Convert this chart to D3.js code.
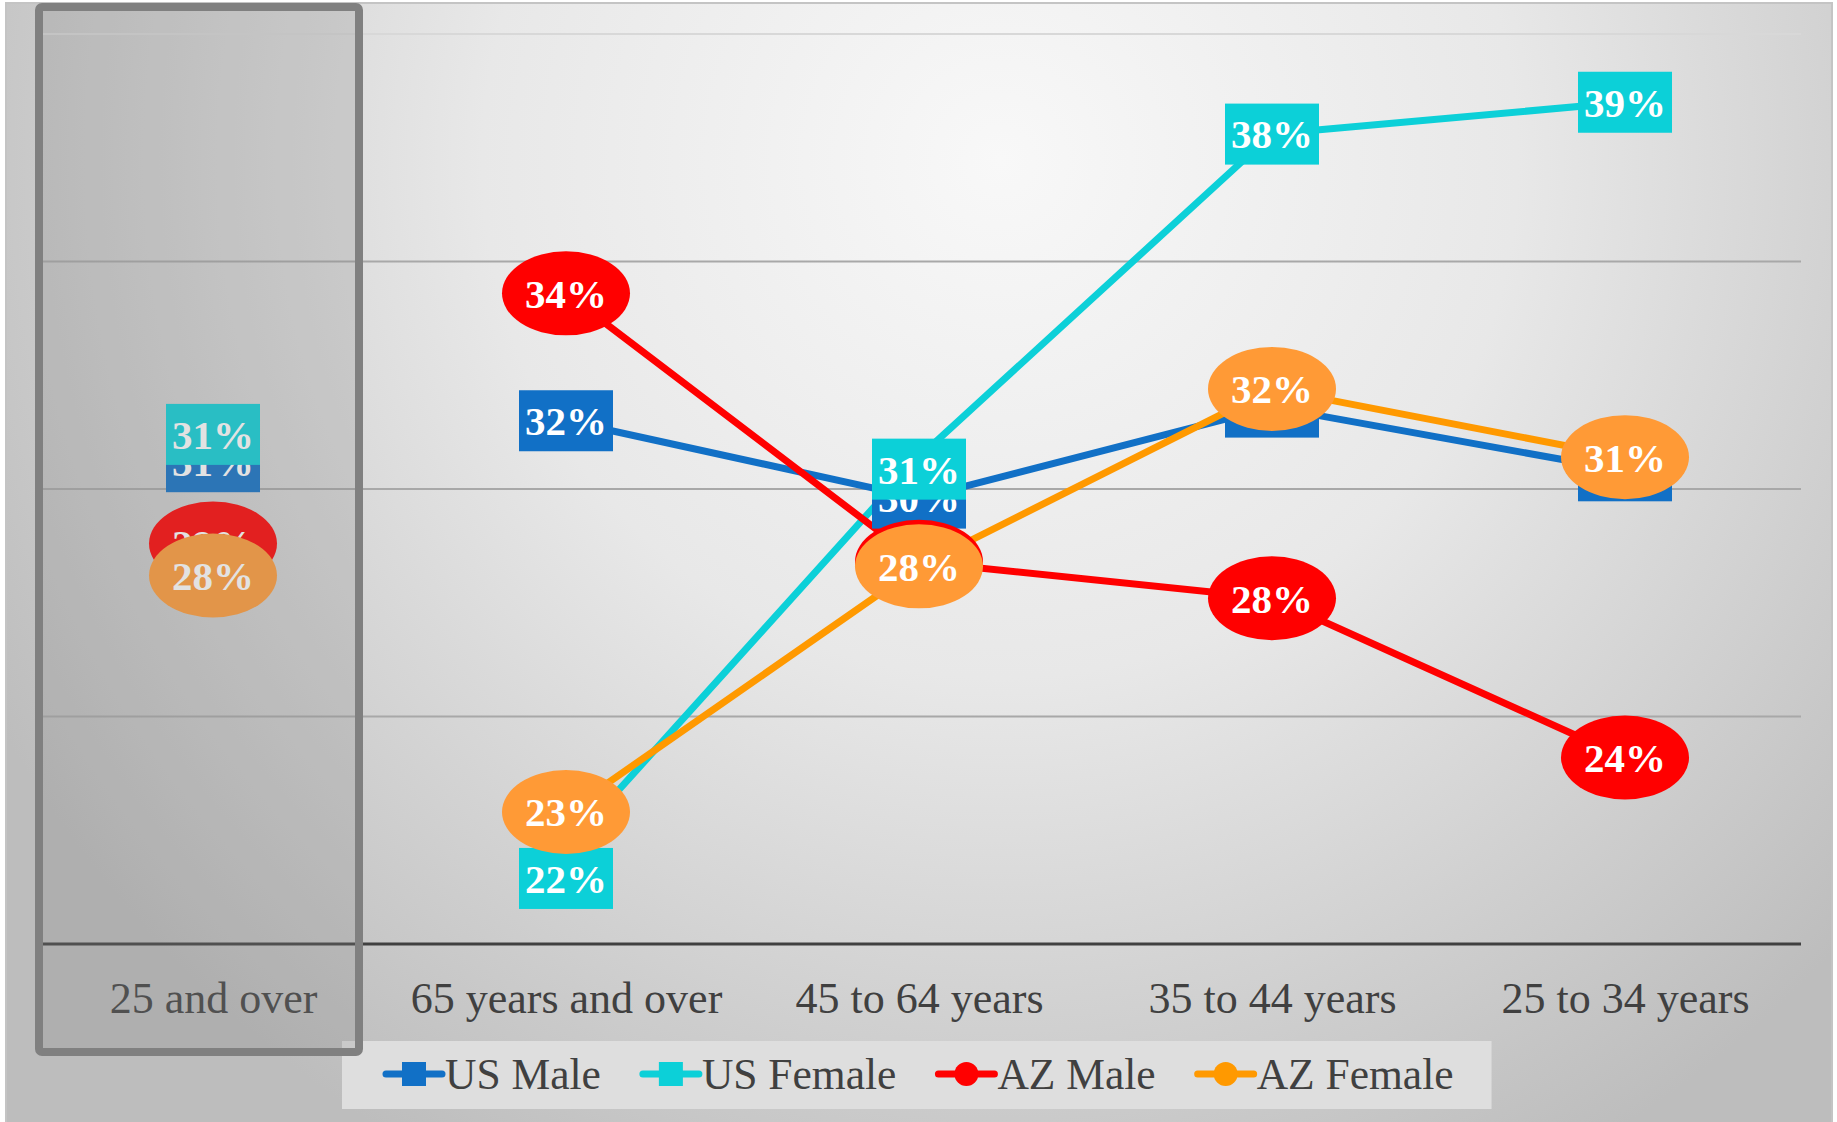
<!DOCTYPE html>
<html>
<head>
<meta charset="utf-8">
<script src="https://cdn.jsdelivr.net/npm/d3@7"></script>
<style>
  body { margin: 0; background: #fff; }
  svg { display: block; }
</style>
</head>
<body>
<script>
// categories along the x axis
const categories = ["25 and over", "65 years and over", "45 to 64 years", "35 to 44 years", "25 to 34 years"]
const seriesNames = ["US Male", "US Female", "AZ Male", "AZ Female"]

// percent values (labels are rounded)
const usMale   = [30.6, 31.5, 29.8, 31.8, 30.4]
const usFemale = [31.2, 22.1, 30.7, 37.8, 38.5]
const azMale   = [28.8, 34.3, 28.4, 27.6, 24.1]
const azFemale = [28.1, 22.9, 28.3, 32.2, 30.7]
const yTicks = [20, 25, 30, 35, 40]

const values = { "US Male": usMale, "US Female": usFemale, "AZ Male": azMale, "AZ Female": azFemale }

// label shape and nudges (index -> px down) like the excel label placement
const styles = {
  "US Male":   { line: "#1170c6", fill: "#1170c6", shape: "rect" },
  "US Female": { line: "#0cd0d8", fill: "#0cd0d8", shape: "rect", nudge: { 1: 30, 2: 12 } },
  "AZ Male":   { line: "#ff0000", fill: "#ff0000", shape: "ellipse" },
  "AZ Female": { line: "#ff9900", fill: "#ff9a36", shape: "ellipse" }
}

const W = 1837, H = 1122
const font = "'Liberation Serif', 'Times New Roman', serif"

let svg = d3.select("body").append("svg").attr("width", W).attr("height", H)

// background gradient
let defs = svg.append("defs")
let grad = defs.append("radialGradient").attr("id", "bg")
  .attr("gradientUnits", "userSpaceOnUse")
  .attr("cx", 1000).attr("cy", 160).attr("r", 1150)
grad.append("stop").attr("offset", 0).attr("stop-color", "#f8f8f8")
grad.append("stop").attr("offset", 0.45).attr("stop-color", "#e8e8e8")
grad.append("stop").attr("offset", 1).attr("stop-color", "#bdbdbd")

svg.append("rect")
  .attr("x", 6).attr("y", 3).attr("width", 1826).attr("height", 1125)
  .attr("fill", "url(#bg)").attr("stroke", "#c4c4c4").attr("stroke-width", 2)

// scales
const plotLeft = 42, plotRight = 1801
let x = d3.scalePoint().domain(categories).range([213, 1625])
let y = d3.scaleLinear().domain([20, 40]).range([944, 34])

// gridlines
svg.append("g").selectAll("line")
  .data(yTicks.filter(t => t > 20))
  .enter().append("line")
  .attr("x1", plotLeft).attr("x2", plotRight)
  .attr("y1", d => y(d)).attr("y2", d => y(d))
  .attr("stroke", d => d == 40 ? "#d8d8d8" : "#a8a8a8")
  .attr("stroke-width", 2)

// x axis
let xAxis = svg.append("g").attr("transform", `translate(0,${y(20)})`)
  .call(d3.axisBottom(x).tickSize(0).tickPadding(38))
xAxis.select(".domain").attr("d", `M${plotLeft},0H${plotRight}`)
  .attr("stroke", "#404040").attr("stroke-width", 3)
xAxis.selectAll("text")
  .attr("font-family", font).attr("font-size", 44).attr("fill", "#404040")

// lines (the first category stands alone, no connecting line)
let line = d3.line()
  .x((d, i) => x(categories[i + 1]))
  .y(d => y(d))

seriesNames.forEach(name => {
  svg.append("path")
    .datum(values[name].slice(1))
    .attr("d", line)
    .attr("fill", "none")
    .attr("stroke", styles[name].line)
    .attr("stroke-width", 7)
    .attr("stroke-linejoin", "round")
})

// data labels
seriesNames.forEach(name => {
  let st = styles[name]
  let g = svg.append("g").selectAll("g")
    .data(values[name])
    .enter().append("g")
    .attr("transform", (d, i) => {
      let dy = (st.nudge && st.nudge[i]) || 0
      return `translate(${x(categories[i])},${y(d) + dy})`
    })
  if (st.shape == "rect") {
    g.append("rect").attr("x", -47).attr("y", -30.5).attr("width", 94).attr("height", 61)
      .attr("fill", st.fill)
  } else {
    g.append("ellipse").attr("rx", 64).attr("ry", 42).attr("fill", st.fill)
  }
  g.append("text")
    .attr("text-anchor", "middle")
    .attr("dy", "0.35em")
    .attr("font-family", font).attr("font-size", 41).attr("font-weight", "bold")
    .attr("fill", "#fff")
    .text(d => Math.round(d) + "%")
})

// legend
let legend = svg.append("g")
let legendBg = legend.append("rect").attr("fill", "#dedede")
let lx = 384, ly = 1074, gap = 40
seriesNames.forEach(name => {
  let st = styles[name]
  let item = legend.append("g").attr("transform", `translate(${lx},${ly})`)
  item.append("line").attr("x1", 2).attr("x2", 58).attr("y1", 0).attr("y2", 0)
    .attr("stroke", st.line).attr("stroke-width", 7).attr("stroke-linecap", "round")
  if (st.shape == "rect") {
    item.append("rect").attr("x", 18).attr("y", -12).attr("width", 24).attr("height", 24).attr("fill", st.line)
  } else {
    item.append("circle").attr("cx", 30).attr("r", 12).attr("fill", st.line)
  }
  let t = item.append("text").attr("x", 61).attr("dy", "0.35em")
    .attr("font-family", font).attr("font-size", 43.5).attr("fill", "#404040")
    .text(name)
  lx += 61 + t.node().getComputedTextLength() + gap
})
legendBg.attr("x", 342).attr("y", 1041).attr("width", lx - gap + 38 - 342).attr("height", 68)

// highlight box over the first category
svg.append("rect")
  .attr("x", 39).attr("y", 7).attr("width", 320).attr("height", 1045)
  .attr("rx", 3)
  .attr("fill", "rgba(135,135,135,0.24)")
  .attr("stroke", "#808080").attr("stroke-width", 8)
</script>
</body>
</html>
